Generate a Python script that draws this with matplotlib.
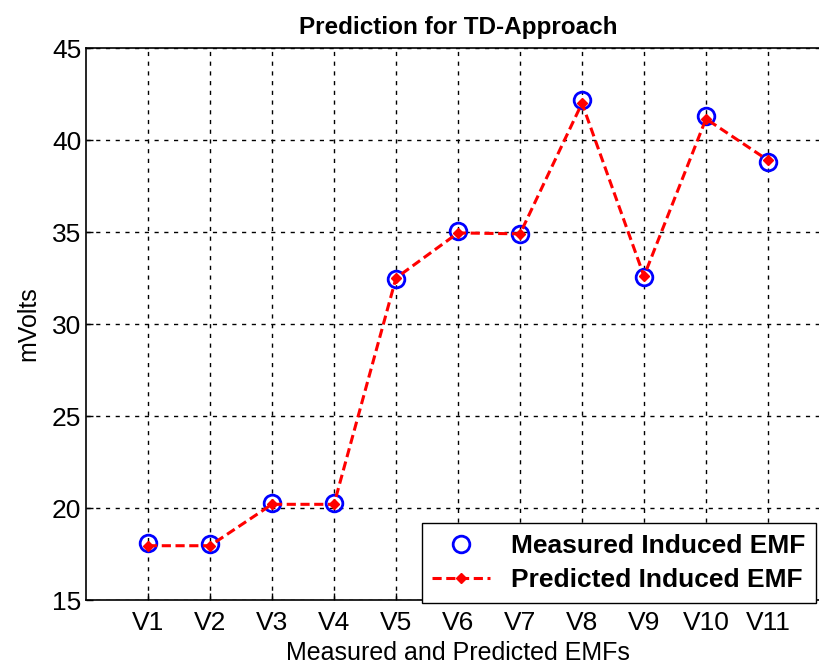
import matplotlib

matplotlib.use("Agg")
import matplotlib.pyplot as plt  # noqa: E402


labels = ["V1", "V2", "V3", "V4", "V5", "V6", "V7", "V8", "V9", "V10", "V11"]
measured = [18.08, 18.05, 20.25, 20.25, 32.45, 35.05, 34.9, 42.2, 32.55, 41.3, 38.8]
predicted = [17.95, 17.95, 20.2, 20.2, 32.5, 34.95, 34.9, 42.0, 32.6, 41.15, 38.9]

plt.rcParams["font.family"] = ["Liberation Sans Narrow", "Liberation Sans", "DejaVu Sans"]

fig = plt.figure(figsize=(8.2, 6.71), dpi=100)
ax = fig.add_axes([86 / 820, 1 - 600 / 671, 744 / 820, 552 / 671])

positions = list(range(1, len(labels) + 1))
ax.plot(positions, measured, linestyle="none", marker="o", markersize=12,
        markerfacecolor="none", markeredgecolor="#0000ff", markeredgewidth=2,
        label="Measured Induced EMF", zorder=3)
ax.plot(positions, predicted, color="#ff0000", linestyle=(0, (3, 1.5)), linewidth=2.2,
        marker="D", markersize=5, markerfacecolor="#ff0000", markeredgecolor="#ff0000",
        label="Predicted Induced EMF", zorder=4)

ax.set_xlim(0, 12)
ax.set_ylim(15, 45)
ax.set_xticks(positions)
ax.set_xticklabels(labels)
ax.set_yticks([15, 20, 25, 30, 35, 40, 45])
ax.tick_params(direction="in", length=5, labelsize=19, width=1)
ax.tick_params(axis="x", pad=8)
ax.grid(True, color="black", linestyle=(0, (3, 4)), linewidth=1)
for spine in ax.spines.values():
    spine.set_linewidth(1.2)

ax.set_title("Prediction for TD-Approach", fontsize=17.5, fontweight="bold", pad=10)
ax.set_xlabel("Measured and Predicted EMFs", fontsize=18, labelpad=4)
ax.set_ylabel("mVolts", fontsize=18, labelpad=8)

ax.legend(loc="lower left", bbox_to_anchor=(421.7 / 820, 1 - 603 / 671),
          bbox_transform=fig.transFigure, borderaxespad=0,
          prop={"size": 19, "weight": "bold"},
          frameon=True, fancybox=False, edgecolor="black", framealpha=1,
          handlelength=2.2, borderpad=0.4, labelspacing=0.4)

fig.savefig("out.png", dpi=100)
